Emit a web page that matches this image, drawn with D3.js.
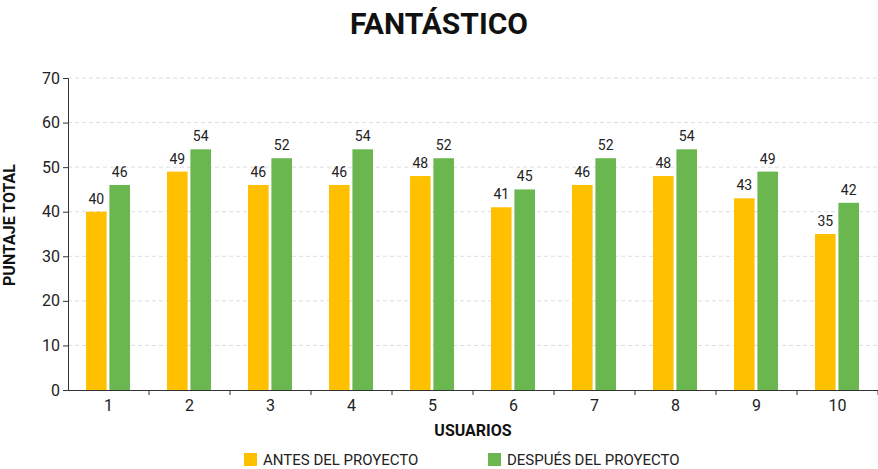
<!DOCTYPE html>
<html><head><meta charset="utf-8">
<script src="https://cdn.jsdelivr.net/npm/d3@7"></script>
<style>body{margin:0;background:#fff;font-family:Roboto,sans-serif}</style>
</head><body><svg id="c" width="878" height="469"></svg>
<script>
var users = ['1','2','3','4','5','6','7','8','9','10'];
var antes = [40,49,46,46,48,41,46,48,43,35];
var despues = [46,54,52,54,52,45,52,54,49,42];
var seriesNames = ['ANTES DEL PROYECTO','DESPUÉS DEL PROYECTO'];
var colors = ['#ffc000','#6ab750'];
var yTicks = [0,10,20,30,40,50,60,70];

var svg = d3.select('#c');
var x = d3.scaleBand().domain(users).range([68,878]);
var inner = d3.scaleBand().domain([0,1]).range([18,62]).paddingInner(0.12);
var y = d3.scaleLinear().domain([0,70]).range([390,78]);

svg.append('g').selectAll('line').data(yTicks.slice(1)).join('line')
  .attr('x1',68).attr('x2',878).attr('y1',y).attr('y2',y)
  .attr('stroke','#ddd').attr('stroke-dasharray','4,3');

var ya = svg.append('g').attr('transform','translate(68,0)')
  .call(d3.axisLeft(y).tickValues(yTicks).tickSize(5));
ya.selectAll('text').attr('font-size',16).attr('fill','#222').attr('font-family','Roboto');
ya.selectAll('line,path').attr('stroke','#333');

var data = users.map(function(u,i){return [antes[i],despues[i]];});
var g = svg.append('g').selectAll('g').data(data).join('g')
  .attr('transform',function(d,i){return 'translate('+x(users[i])+',0)';});
[0,1].forEach(function(s){
  g.append('rect').attr('x',inner(s)).attr('width',inner.bandwidth())
    .attr('y',function(d){return y(d[s]);}).attr('height',function(d){return y(0)-y(d[s]);})
    .attr('fill',colors[s]);
  g.append('text').attr('x',inner(s)+inner.bandwidth()/2).attr('y',function(d){return y(d[s])-8;})
    .attr('text-anchor','middle').attr('font-size',14).attr('fill','#222').text(function(d){return d[s];});
});

var xa = svg.append('g').attr('transform','translate(0,390)')
  .call(d3.axisBottom(x).tickSize(0).tickPadding(10));
xa.selectAll('text').attr('font-size',16).attr('fill','#222').attr('font-family','Roboto');
xa.select('path').attr('stroke','#333');
xa.selectAll('.sep').data(users).join('line').attr('class','sep')
  .attr('x1',function(d){return x(d)+x.bandwidth();}).attr('x2',function(d){return x(d)+x.bandwidth();})
  .attr('y1',0).attr('y2',5).attr('stroke','#333');

svg.append('text').attr('x',439).attr('y',34).attr('text-anchor','middle')
  .attr('font-size',30).attr('font-weight','bold').attr('fill','#111').text('FANTÁSTICO');
svg.append('text').attr('transform','translate(15,225) rotate(-90)').attr('text-anchor','middle')
  .attr('font-size',16).attr('font-weight','bold').attr('fill','#111').text('PUNTAJE TOTAL');
svg.append('text').attr('x',473).attr('y',436).attr('text-anchor','middle')
  .attr('font-size',16).attr('font-weight','bold').attr('fill','#111').text('USUARIOS');

var lx = [244,488];
seriesNames.forEach(function(n,i){
  svg.append('rect').attr('x',lx[i]).attr('y',453).attr('width',13).attr('height',13).attr('fill',colors[i]);
  svg.append('text').attr('x',lx[i]+19).attr('y',465).attr('font-size',15).attr('fill','#222').text(n);
});
</script></body></html>
